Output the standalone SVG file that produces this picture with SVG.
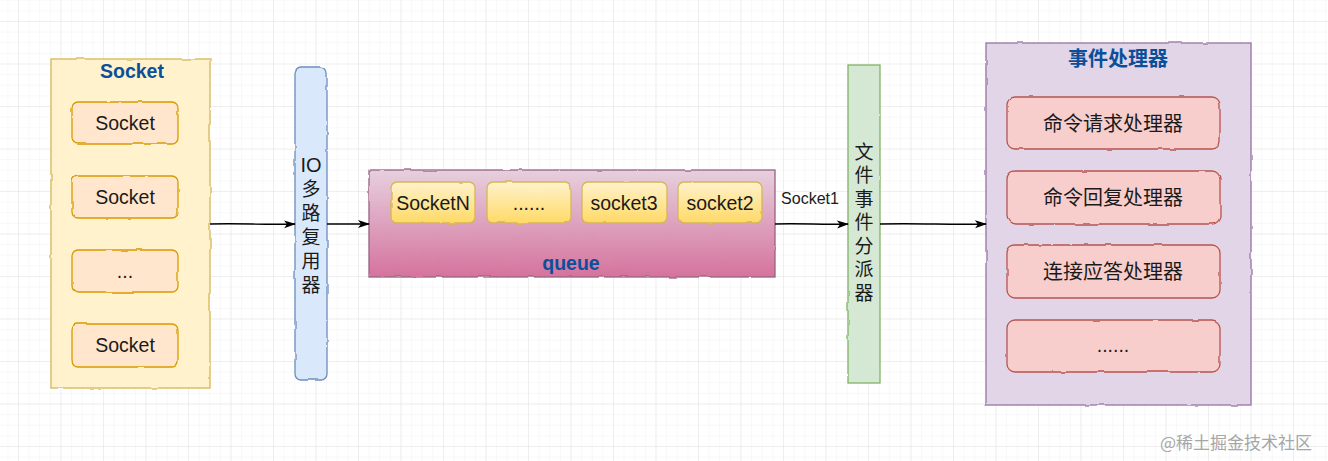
<svg xmlns="http://www.w3.org/2000/svg" width="1328" height="461" viewBox="0 0 1328 461">
<defs>
  <pattern id="minor" x="18" y="21" width="10.625" height="10.625" patternUnits="userSpaceOnUse">
    <path d="M0 0H10.625M0 0V10.625" fill="none" stroke="#f2f2f2" stroke-width="1"/>
  </pattern>
  <pattern id="major" x="18" y="21" width="42.5" height="42.5" patternUnits="userSpaceOnUse">
    <path d="M0 0H42.5M0 0V42.5" fill="none" stroke="#e4e4e4" stroke-width="1"/>
  </pattern>
  <linearGradient id="gQueue" x1="0" y1="0" x2="0" y2="1">
    <stop offset="0" stop-color="#e6d0de"/>
    <stop offset="1" stop-color="#d5739d"/>
  </linearGradient>
  <linearGradient id="gItem" x1="0" y1="0" x2="0" y2="1">
    <stop offset="0" stop-color="#fff2cc"/>
    <stop offset="1" stop-color="#ffd966"/>
  </linearGradient>
  <filter id="sketch" x="-5%" y="-5%" width="110%" height="110%">
    <feTurbulence type="fractalNoise" baseFrequency="0.06" numOctaves="2" seed="3" result="n"/>
    <feDisplacementMap in="SourceGraphic" in2="n" scale="2.5" xChannelSelector="R" yChannelSelector="G"/>
  </filter>
  <marker id="arrow" viewBox="0 0 12 10" refX="11" refY="5" markerWidth="12" markerHeight="10" markerUnits="userSpaceOnUse" orient="auto">
    <path d="M0 1 L12 5 L0 9 L3 5 Z" fill="#000"/>
  </marker>
  <style>
    .lat { font-family: "Liberation Sans", Arial, sans-serif; fill: #1a1a1a; }
    .cjk { font-family: "Noto Sans CJK SC", "Liberation Sans", sans-serif; fill: #1a1a1a; }
    .vert { writing-mode: vertical-rl; text-orientation: upright; }
    .title { font-weight: bold; fill: #0b4f9a; }
    .c { text-anchor: middle; }
    .sk { filter: url(#sketch); }
    .sockC { fill: #fff2cc; stroke: #d6b656; stroke-width: 1.3; }
    .sockI { fill: #ffe6cc; stroke: #d79b00; stroke-width: 1.3; }
    .io { fill: #dae8fc; stroke: #6c8ebf; stroke-width: 1.3; }
    .queue { fill: url(#gQueue); stroke: #996185; stroke-width: 1.3; }
    .qitem { fill: url(#gItem); stroke: #d6b656; stroke-width: 1.3; }
    .disp { fill: #d5e8d4; stroke: #82b366; stroke-width: 1.3; }
    .handC { fill: #e1d5e7; stroke: #9673a6; stroke-width: 1.3; }
    .handI { fill: #f8cecc; stroke: #b85450; stroke-width: 1.3; }
    .edge { fill: none; stroke: #000; stroke-width: 1.3; marker-end: url(#arrow); }
  </style>
</defs>
<rect width="1328" height="461" fill="#ffffff"/>
<rect width="1328" height="461" fill="url(#minor)"/>
<rect width="1328" height="461" fill="url(#major)"/>

<g id="socket-group">
  <rect class="sockC sk" x="51" y="59" width="159" height="329"/>
  <text class="lat title c" x="132" y="78" font-size="19.5">Socket</text>
  <g id="socket1">
    <rect class="sockI sk" x="72" y="102" width="106" height="42" rx="6"/>
    <text class="lat c" x="125" y="130" font-size="19.5">Socket</text>
  </g>
  <g id="socket2">
    <rect class="sockI sk" x="72" y="176" width="106" height="42" rx="6"/>
    <text class="lat c" x="125" y="204" font-size="19.5">Socket</text>
  </g>
  <g id="socket3">
    <rect class="sockI sk" x="72" y="250" width="106" height="42" rx="6"/>
    <text class="lat c" x="125" y="278" font-size="19.5">...</text>
  </g>
  <g id="socket4">
    <rect class="sockI sk" x="72" y="324" width="106" height="43" rx="6"/>
    <text class="lat c" x="125" y="352" font-size="19.5">Socket</text>
  </g>
</g>

<g id="io-multiplexer">
  <rect class="io sk" x="295" y="67" width="32" height="313" rx="6"/>
  <text class="lat c" x="311" y="172" font-size="20">IO</text>
  <text class="cjk vert" x="311" y="179" font-size="19" letter-spacing="5">多路复用器</text>
</g>

<g id="queue">
  <rect class="queue sk" x="369" y="170" width="406" height="107"/>
  <text class="lat title c" x="571" y="270" font-size="19.5">queue</text>
  <g id="q-socketN">
    <rect class="qitem sk" x="391" y="182" width="84" height="41" rx="6"/>
    <text class="lat c" x="433" y="210" font-size="19.5">SocketN</text>
  </g>
  <g id="q-dots">
    <rect class="qitem sk" x="487" y="182" width="84" height="41" rx="6"/>
    <text class="lat c" x="529" y="210" font-size="19.5">......</text>
  </g>
  <g id="q-socket3">
    <rect class="qitem sk" x="582" y="182" width="85" height="41" rx="6"/>
    <text class="lat c" x="624" y="210" font-size="19.5">socket3</text>
  </g>
  <g id="q-socket2">
    <rect class="qitem sk" x="678" y="182" width="84" height="41" rx="6"/>
    <text class="lat c" x="720" y="210" font-size="19.5">socket2</text>
  </g>
</g>

<g id="dispatcher">
  <rect class="disp sk" x="848" y="65" width="32" height="318"/>
  <text class="cjk vert" x="864" y="142" font-size="19" letter-spacing="4.5">文件事件分派器</text>
</g>

<g id="event-handlers">
  <rect class="handC sk" x="986" y="43" width="265" height="362"/>
  <text class="cjk title c" x="1118" y="66" font-size="20">事件处理器</text>
  <g id="h-request">
    <rect class="handI sk" x="1007" y="97" width="213" height="52" rx="8"/>
    <text class="cjk c" x="1113" y="131" font-size="20">命令请求处理器</text>
  </g>
  <g id="h-reply">
    <rect class="handI sk" x="1007" y="171" width="213" height="53" rx="8"/>
    <text class="cjk c" x="1113" y="205" font-size="20">命令回复处理器</text>
  </g>
  <g id="h-accept">
    <rect class="handI sk" x="1007" y="245" width="213" height="53" rx="8"/>
    <text class="cjk c" x="1113" y="279" font-size="20">连接应答处理器</text>
  </g>
  <g id="h-more">
    <rect class="handI sk" x="1007" y="320" width="213" height="52" rx="8"/>
    <text class="lat c" x="1113" y="352" font-size="19.5">......</text>
  </g>
</g>

<g id="connectors">
  <path class="edge" d="M210 224 C240 223 265 225 295 224"/>
  <path class="edge" d="M327 224 L369 224"/>
  <path class="edge" d="M775 224 C800 223 825 225 848 224"/>
  <text class="lat c" x="810" y="204" font-size="16">Socket1</text>
  <path class="edge" d="M880 224 C920 223 950 225 986 224"/>
</g>

<text class="cjk" x="1160" y="449" font-size="17" style="fill:#a6a6a6">@稀土掘金技术社区</text>
</svg>
